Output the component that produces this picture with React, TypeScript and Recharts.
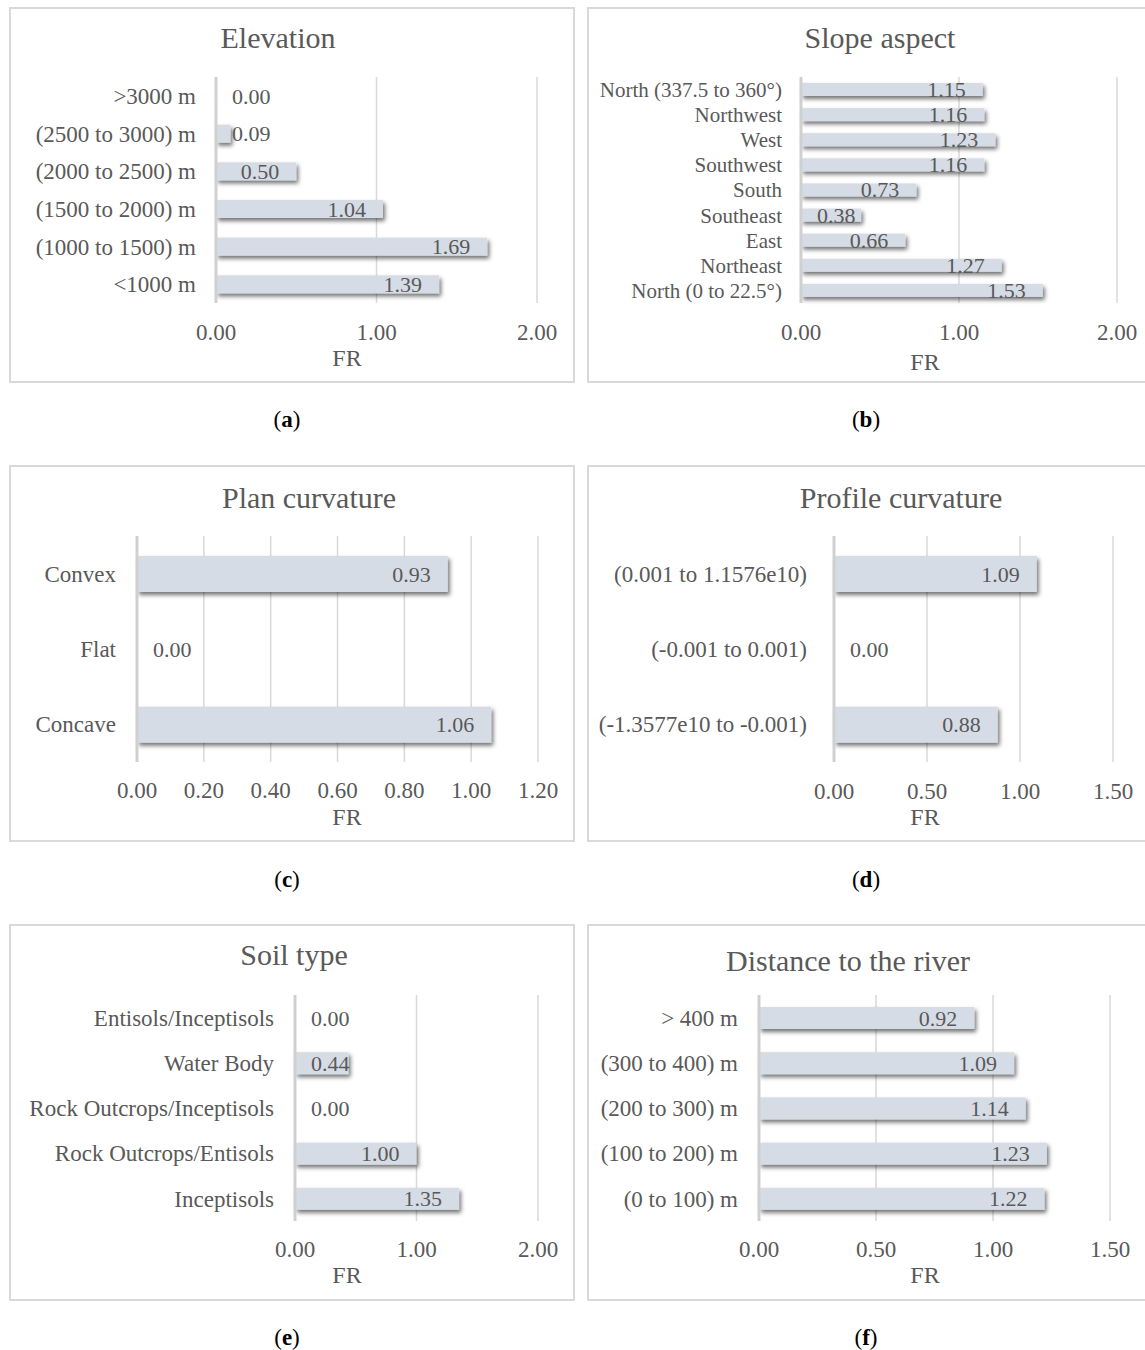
import React from 'react';
import { BarChart, Bar, XAxis, YAxis, CartesianGrid, LabelList } from 'recharts';

// (a) Elevation
const elevationCats = ['>3000 m', '(2500 to 3000) m', '(2000 to 2500) m', '(1500 to 2000) m', '(1000 to 1500) m', '<1000 m'];
const elevationFR = [0.0, 0.09, 0.5, 1.04, 1.69, 1.39];

// (b) Slope aspect
const aspectCats = ['North (337.5 to 360°)', 'Northwest', 'West', 'Southwest', 'South', 'Southeast', 'East', 'Northeast', 'North (0 to 22.5°)'];
const aspectFR = [1.15, 1.16, 1.23, 1.16, 0.73, 0.38, 0.66, 1.27, 1.53];

// (c) Plan curvature
const planCats = ['Convex', 'Flat', 'Concave'];
const planFR = [0.93, 0.0, 1.06];

// (d) Profile curvature
const profileCats = ['(0.001 to 1.1576e10)', '(-0.001 to 0.001)', '(-1.3577e10 to -0.001)'];
const profileFR = [1.09, 0.0, 0.88];

// (e) Soil type
const soilCats = ['Entisols/Inceptisols', 'Water Body', 'Rock Outcrops/Inceptisols', 'Rock Outcrops/Entisols', 'Inceptisols'];
const soilFR = [0.0, 0.44, 0.0, 1.0, 1.35];

// (f) Distance to the river
const riverCats = ['> 400 m', '(300 to 400) m', '(200 to 300) m', '(100 to 200) m', '(0 to 100) m'];
const riverFR = [0.92, 1.09, 1.14, 1.23, 1.22];

const ticksOne = [0, 1, 2];
const ticksPlan = [0, 0.2, 0.4, 0.6, 0.8, 1.0, 1.2];
const ticksHalf = [0, 0.5, 1, 1.5];

const GREY = '#595959';
const FONT = '"Liberation Serif", "Times New Roman", serif';
const BAR = '#d6dce5';
const VALUE_FONT = 22;

type PanelProps = {
  id: string;
  left: number;
  top: number;
  w: number;
  h: number;
  title: string;
  titleX: number;
  titleY: number;
  cats: string[];
  values: number[];
  ticks: number[];
  zeroX: number;
  plotRight: number;
  plotTop: number;
  plotBottom: number;
  xTickMargin: number;
  yTickMargin: number;
  catFont: number;
  barSize: number;
  frX: number;
  frY: number;
  caption: string;
  capX: number;
  capY: number;
};

// Excel-style "inside end" label; pushed right of the bar when the bar is too short
const ValueLabel = (props: any) => {
  const vb = props.viewBox || {};
  const x = props.x ?? vb.x;
  const y = props.y ?? vb.y;
  const width = props.width ?? vb.width ?? 0;
  const height = props.height ?? vb.height ?? 0;
  const v = Number(props.value);
  const textW = VALUE_FONT * 1.75;
  const right = Math.max(x + width - 17, x + 16 + textW);
  return (
    <text x={right} y={y + height / 2} textAnchor="end" dominantBaseline="central" fill={GREY} fontSize={VALUE_FONT}>
      {v.toFixed(2)}
    </text>
  );
};

function Panel(p: PanelProps) {
  const data = p.cats.map((c, i) => ({ name: c, fr: p.values[i] }));
  const fid = 'shadow-' + p.id;
  const xAxisH = 50;
  const margin = {
    top: p.plotTop - p.top,
    right: p.left + p.w - p.plotRight,
    bottom: p.top + p.h - p.plotBottom - xAxisH,
    left: 0,
  };
  return (
    <>
      <div
        style={{
          position: 'absolute',
          left: p.left,
          top: p.top,
          width: p.w,
          height: p.h,
          border: '2px solid #d9d9d9',
          boxSizing: 'border-box',
        }}
      />
      <div
        style={{
          position: 'absolute',
          left: p.titleX,
          top: p.titleY,
          transform: 'translate(-50%, -50%)',
          fontSize: 30,
          lineHeight: 1,
          color: GREY,
          whiteSpace: 'nowrap',
        }}
      >
        {p.title}
      </div>
      <div style={{ position: 'absolute', left: p.left, top: p.top }}>
        <BarChart width={p.w} height={p.h} data={data} layout="vertical" margin={margin}>
          <defs>
            <filter id={fid} filterUnits="userSpaceOnUse" x={-50} y={-50} width={1400} height={1500}>
              <feDropShadow dx={2} dy={3} stdDeviation={2} floodColor="#000" floodOpacity={0.55} />
            </filter>
          </defs>
          <CartesianGrid horizontal={false} stroke="#d9d9d9" strokeWidth={1.5} />
          <XAxis
            type="number"
            domain={[0, p.ticks[p.ticks.length - 1]]}
            ticks={p.ticks}
            interval={0}
            tickFormatter={(v: number) => v.toFixed(2)}
            axisLine={false}
            tickLine={false}
            tickSize={0}
            tickMargin={p.xTickMargin}
            height={xAxisH}
            tick={{ fill: GREY, fontSize: 23 }}
          />
          <YAxis
            type="category"
            dataKey="name"
            width={p.zeroX - p.left}
            interval={0}
            axisLine={{ stroke: '#d0d0d0', strokeWidth: 3 }}
            tickLine={false}
            tickSize={0}
            tickMargin={p.yTickMargin}
            tick={{ fill: GREY, fontSize: p.catFont }}
          />
          <Bar
            dataKey="fr"
            fill={BAR}
            barSize={p.barSize}
            isAnimationActive={false}
            shape={(s: any) =>
              s.width > 0 ? (
                <rect x={s.x} y={s.y} width={s.width} height={s.height} fill={BAR} filter={`url(#${fid})`} />
              ) : (
                <g />
              )
            }
          >
            <LabelList dataKey="fr" content={ValueLabel} />
          </Bar>
        </BarChart>
      </div>
      <div
        style={{
          position: 'absolute',
          left: p.frX,
          top: p.frY,
          transform: 'translate(-50%, -50%)',
          fontSize: 24,
          lineHeight: 1,
          color: GREY,
        }}
      >
        FR
      </div>
      <div
        style={{
          position: 'absolute',
          left: p.capX,
          top: p.capY,
          transform: 'translate(-50%, -50%)',
          fontSize: 23,
          lineHeight: 1,
          color: '#000',
        }}
      >
        (<b>{p.caption}</b>)
      </div>
    </>
  );
}

export default function App() {
  return (
    <div
      style={{
        position: 'absolute',
        left: 0,
        top: 0,
        width: 1145,
        height: 1350,
        overflow: 'hidden',
        background: '#fff',
        fontFamily: FONT,
      }}
    >
      <Panel
        id="a" left={9} top={7} w={566} h={376}
        title="Elevation" titleX={278} titleY={38}
        cats={elevationCats} values={elevationFR} ticks={ticksOne}
        zeroX={216} plotRight={537} plotTop={77} plotBottom={303}
        xTickMargin={21} yTickMargin={20} catFont={23} barSize={18}
        frX={347} frY={358} caption="a" capX={287} capY={419}
      />
      <Panel
        id="b" left={587} top={7} w={566} h={376}
        title="Slope aspect" titleX={880} titleY={38}
        cats={aspectCats} values={aspectFR} ticks={ticksOne}
        zeroX={801} plotRight={1117} plotTop={77} plotBottom={303}
        xTickMargin={21} yTickMargin={19} catFont={21} barSize={13}
        frX={925} frY={362} caption="b" capX={866} capY={419}
      />
      <Panel
        id="c" left={9} top={465} w={566} h={377}
        title="Plan curvature" titleX={309} titleY={498}
        cats={planCats} values={planFR} ticks={ticksPlan}
        zeroX={137} plotRight={538} plotTop={536} plotBottom={762}
        xTickMargin={20} yTickMargin={21} catFont={23} barSize={36}
        frX={347} frY={817} caption="c" capX={287} capY={879}
      />
      <Panel
        id="d" left={587} top={465} w={566} h={377}
        title="Profile curvature" titleX={901} titleY={498}
        cats={profileCats} values={profileFR} ticks={ticksHalf}
        zeroX={834} plotRight={1113} plotTop={536} plotBottom={762}
        xTickMargin={21} yTickMargin={27} catFont={23} barSize={36}
        frX={925} frY={817} caption="d" capX={866} capY={879}
      />
      <Panel
        id="e" left={9} top={924} w={566} h={377}
        title="Soil type" titleX={294} titleY={955}
        cats={soilCats} values={soilFR} ticks={ticksOne}
        zeroX={295} plotRight={538} plotTop={995} plotBottom={1221}
        xTickMargin={20} yTickMargin={21} catFont={23} barSize={22}
        frX={347} frY={1275} caption="e" capX={287} capY={1337}
      />
      <Panel
        id="f" left={587} top={924} w={566} h={377}
        title="Distance to the river" titleX={848} titleY={961}
        cats={riverCats} values={riverFR} ticks={ticksHalf}
        zeroX={759} plotRight={1110} plotTop={995} plotBottom={1221}
        xTickMargin={20} yTickMargin={21} catFont={23} barSize={22}
        frX={925} frY={1275} caption="f" capX={866} capY={1337}
      />
    </div>
  );
}
